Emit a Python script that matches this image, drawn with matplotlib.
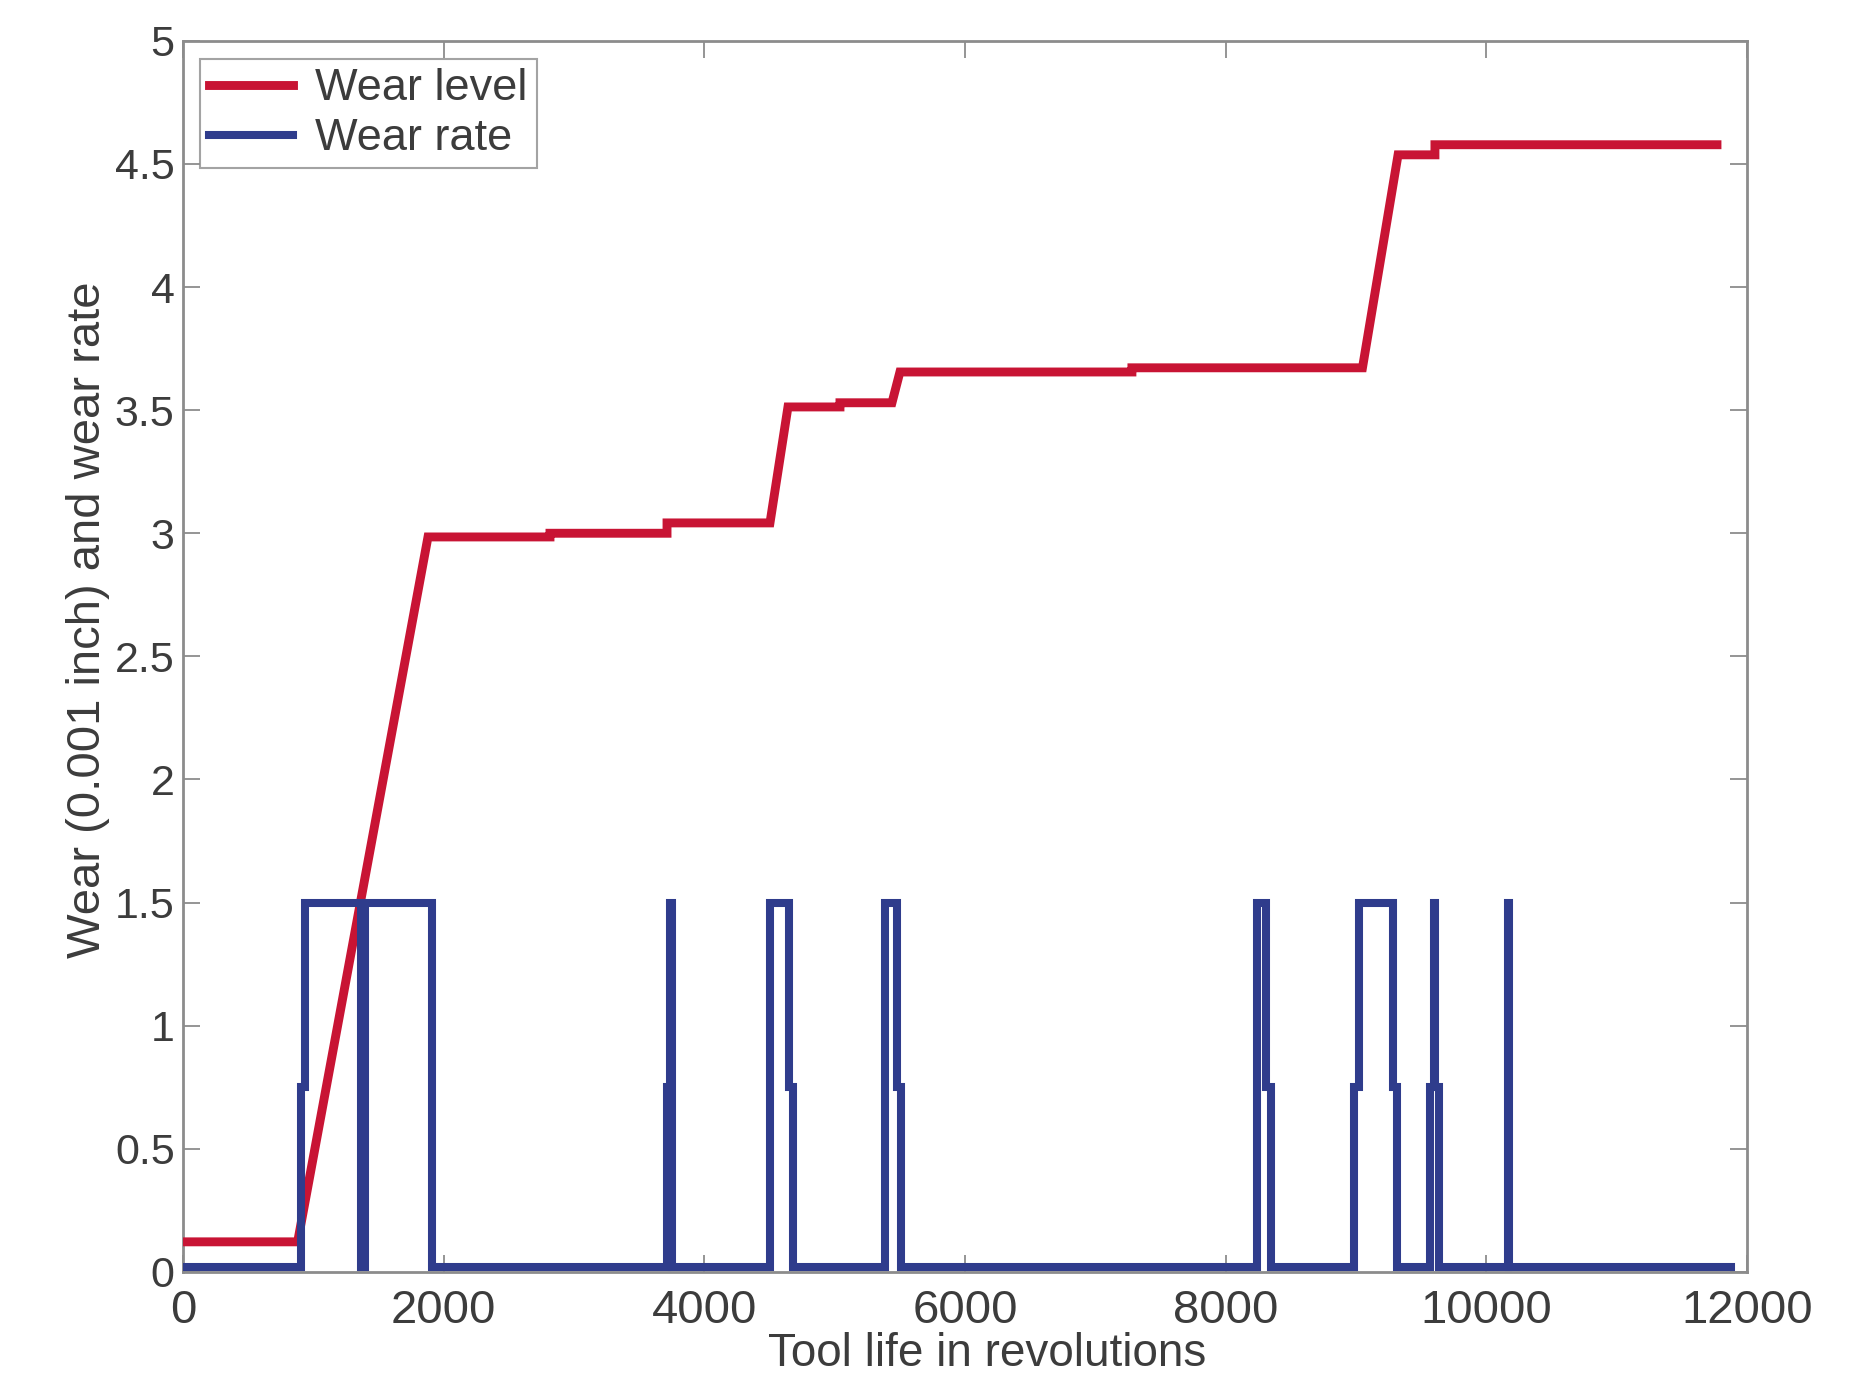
import matplotlib
matplotlib.use("Agg")
import matplotlib.pyplot as plt

# ---- data ----
wear_x = [0, 880, 1880, 2816, 2816, 3714, 3714, 4504, 4642, 5041, 5041,
          5440, 5501, 7281, 7281, 9050, 9323, 9606, 9606, 11770]
wear_y = [0.122, 0.122, 2.985, 2.985, 3.0, 3.0, 3.042, 3.042, 3.513, 3.513, 3.53,
          3.53, 3.655, 3.655, 3.672, 3.672, 4.537, 4.537, 4.578, 4.578]

rate_x = [0, 905, 905, 940, 940, 1365, 1365, 1395, 1395, 1910, 1910,
          3712, 3712, 3740, 3740, 3752, 3752,
          4504, 4504, 4650, 4650, 4680, 4680,
          5390, 5390, 5476, 5476, 5507, 5507,
          8240, 8240, 8310, 8310, 8348, 8348,
          8985, 8985, 9023, 9023, 9284, 9284, 9315, 9315,
          9568, 9568, 9595, 9595, 9605, 9605, 9637, 9637,
          10165, 10165, 10172, 10172,
          11880]
rate_y = [0.02, 0.02, 0.75, 0.75, 1.5, 1.5, 0.02, 0.02, 1.5, 1.5, 0.02,
          0.02, 0.75, 0.75, 1.5, 1.5, 0.02,
          0.02, 1.5, 1.5, 0.75, 0.75, 0.02,
          0.02, 1.5, 1.5, 0.75, 0.75, 0.02,
          0.02, 1.5, 1.5, 0.75, 0.75, 0.02,
          0.02, 0.75, 0.75, 1.5, 1.5, 0.75, 0.75, 0.02,
          0.02, 0.75, 0.75, 1.5, 1.5, 0.75, 0.75, 0.02,
          0.02, 1.5, 1.5, 0.02,
          0.02]

x_ticks = [0, 2000, 4000, 6000, 8000, 10000, 12000]
y_ticks = [0, 0.5, 1, 1.5, 2, 2.5, 3, 3.5, 4, 4.5, 5]
y_tick_labels = ["0", "0.5", "1", "1.5", "2", "2.5", "3", "3.5", "4", "4.5", "5"]
series_labels = ["Wear level", "Wear rate"]
x_label = "Tool life in revolutions"
y_label = "Wear (0.001 inch) and wear rate"

# ---- style ----
RED = "#C81434"
BLUE = "#2F3C8C"
TXT = "#3c3c3c"
GRID = "#8c8c8c"
plt.rcParams["font.family"] = ["Liberation Sans", "DejaVu Sans"]

fig = plt.figure(figsize=(18.67, 13.75), dpi=100)
ax = fig.add_axes([0.098, 0.075, 0.8377, 0.8953])

ax.plot(wear_x, wear_y, color=RED, lw=6.4, solid_joinstyle="miter",
        label=series_labels[0], zorder=3)
ax.plot(rate_x, rate_y, color=BLUE, lw=5.8, solid_joinstyle="miter",
        label=series_labels[1], zorder=4)

ax.set_xlim(0, 12000)
ax.set_ylim(0, 5)
ax.set_xticks(x_ticks)
ax.set_xticklabels([str(t) for t in x_ticks])
ax.set_yticks(y_ticks)
ax.set_yticklabels(y_tick_labels)

ax.tick_params(direction="in", top=True, right=True, length=12, width=1.3,
               color=GRID, labelcolor=TXT)
ax.tick_params(axis="x", pad=12, labelsize=34)
ax.tick_params(axis="y", pad=6, labelsize=31)
for s in ax.spines.values():
    s.set_color(GRID)
    s.set_linewidth(2)

xl = ax.set_xlabel(x_label, fontsize=33, color=TXT)
xl.set_va("center")
ax.xaxis.set_label_coords(0.514, -0.0665)
yl = ax.set_ylabel(y_label, fontsize=34, color=TXT)
yl.set_va("center")
ax.yaxis.set_label_coords(-0.061, 0.53)

leg = ax.legend(loc="upper left", bbox_to_anchor=(0.0109, 0.985),
                borderaxespad=0, fontsize=32.5, frameon=True, fancybox=False,
                handlelength=1.85, handletextpad=0.5, labelspacing=0.2,
                borderpad=0.2)
leg.get_frame().set_edgecolor(GRID)
leg.get_frame().set_linewidth(1.5)
for t in leg.get_texts():
    t.set_color(TXT)

fig.savefig("out.png", dpi=100, facecolor="white")
